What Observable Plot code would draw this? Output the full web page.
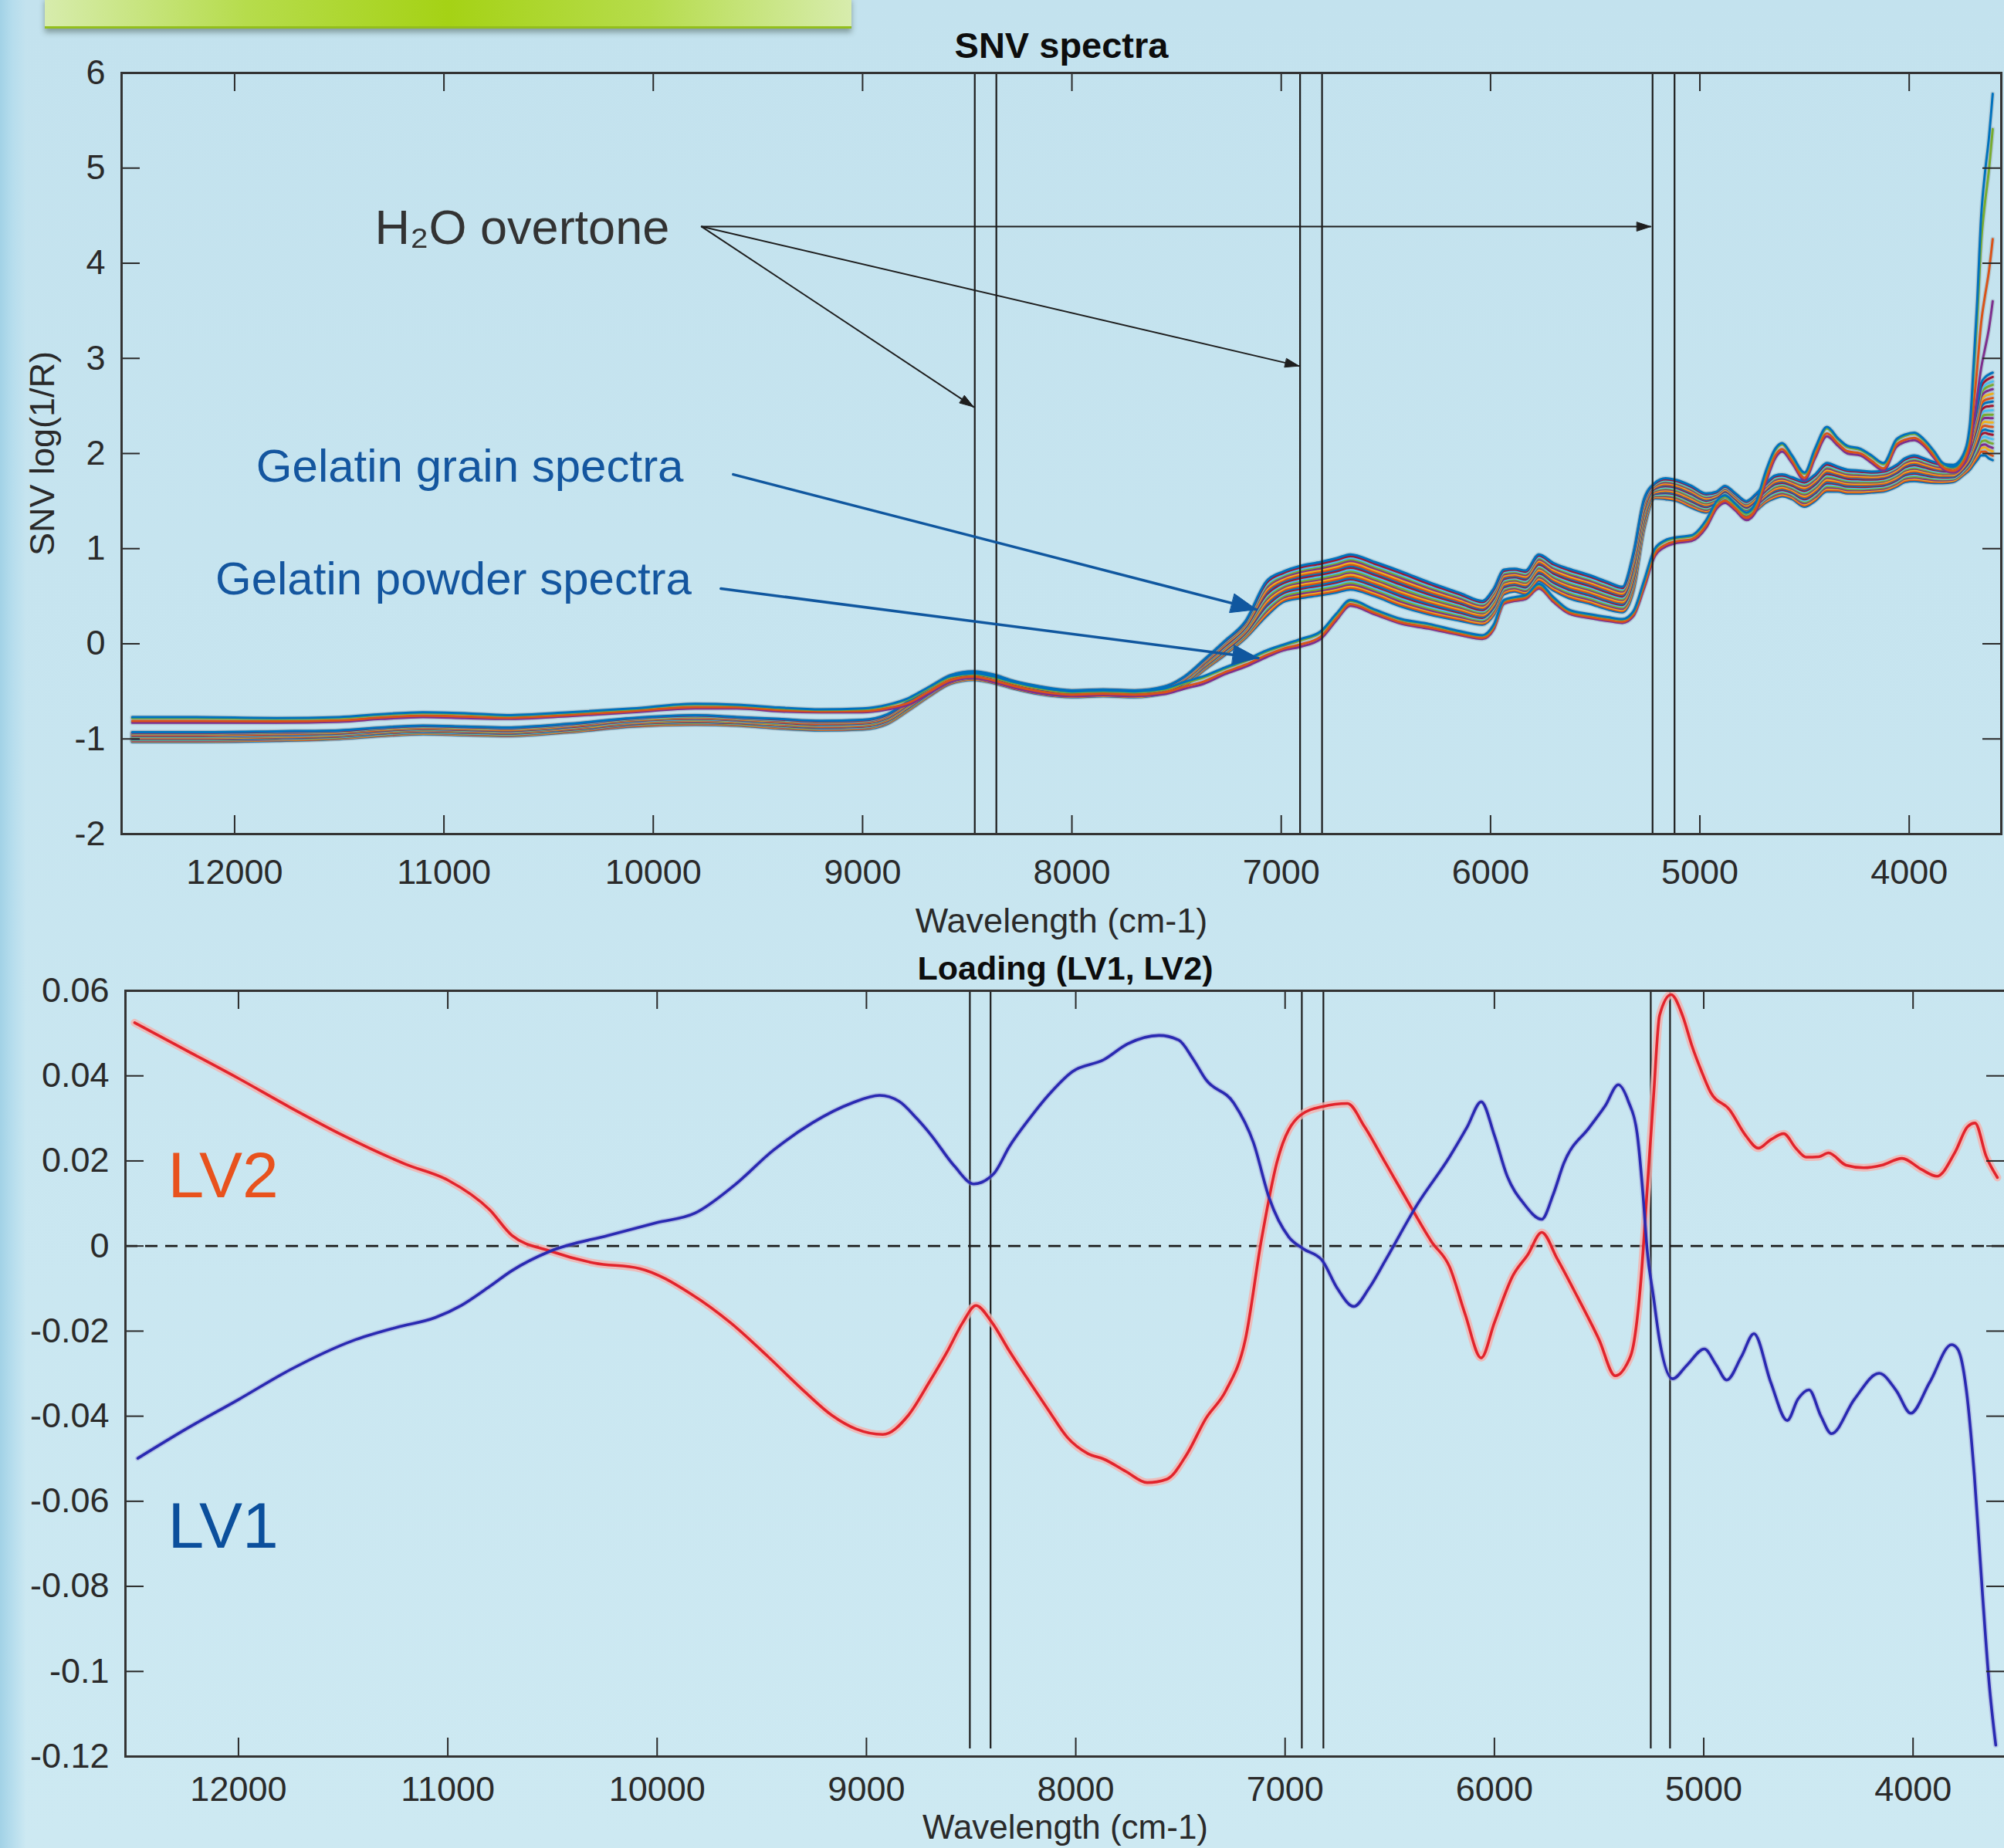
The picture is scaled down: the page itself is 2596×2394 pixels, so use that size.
<!DOCTYPE html>
<html><head><meta charset="utf-8">
<script src="https://cdn.jsdelivr.net/npm/d3@7"></script>
<script src="https://cdn.jsdelivr.net/npm/@observablehq/plot@0.6"></script>
<style>
html,body{margin:0;padding:0;overflow:hidden;background:#c6e4ef;}
#page{position:relative;width:2596px;height:2394px;overflow:hidden;
 background: linear-gradient(to right, #a2d2e6 0px, #b6dded 16px, rgba(198,228,239,0) 34px), linear-gradient(to bottom, #c3e2ee, #cde9f2);}
#banner{position:absolute;left:58px;top:-4px;width:1045px;height:38px;
 background: linear-gradient(to right, #d7ecad, #b6dc4c 25%, #a5d215 50%, #b6dc4c 75%, #d7ecad);
 border-bottom:3px solid #93bf1c; box-shadow:0 5px 7px rgba(50,70,60,0.45);}
.chart{position:absolute;left:0;}
</style></head><body><div id="page"><div id="banner"></div></div>
<script>
// ---------- DATA: SNV spectra (top) ----------
const wn = [12489,12200,11800,11500,11300,11100,10900,10700,10400,10100,
 9800,9600,9400,9200,9000,8880,8780,8680,8580,8470,
 8380,8280,8150,8000,7850,7700,7560,7460,7370,7270,
 7170,7070,6990,6907,6812,6735,6670,6554,6426,6297,
 6142,6039,5985,5936,5885,5833,5769,5700,5627,5525,
 5440,5370,5318,5267,5215,5164,5110,5040,4970,4920,
 4880,4830,4778,4730,4687,4640,4607,4560,4500,4450,
 4393,4340,4295,4233,4180,4123,4061,4020,3975,3930,
 3880,3840,3790,3742,3710,3693,3675,3656,3638,3620,
 3601];
const grainLow = [-1.03,-1.03,-1.02,-1.00,-0.97,-0.95,-0.96,-0.97,-0.93,-0.87,
 -0.85,-0.86,-0.89,-0.91,-0.90,-0.84,-0.70,-0.55,-0.42,-0.38,
 -0.41,-0.47,-0.53,-0.56,-0.55,-0.56,-0.52,-0.44,-0.28,-0.12,
 0.06,0.29,0.44,0.48,0.51,0.54,0.57,0.50,0.39,0.31,
 0.24,0.20,0.30,0.52,0.55,0.52,0.66,0.56,0.48,0.42,
 0.36,0.33,0.55,1.20,1.53,1.52,1.50,1.43,1.38,1.44,
 1.50,1.42,1.32,1.40,1.48,1.53,1.55,1.52,1.44,1.50,
 1.60,1.60,1.58,1.58,1.59,1.60,1.65,1.70,1.71,1.70,
 1.69,1.69,1.70,1.77,1.83,1.88,1.93,1.98,1.98,1.95,
 1.93];
const grainHigh = [-0.93,-0.93,-0.92,-0.91,-0.88,-0.86,-0.87,-0.88,-0.84,-0.78,
 -0.75,-0.77,-0.79,-0.81,-0.80,-0.74,-0.60,-0.46,-0.33,-0.29,
 -0.32,-0.39,-0.45,-0.49,-0.48,-0.49,-0.45,-0.34,-0.17,0.03,
 0.24,0.66,0.76,0.82,0.86,0.90,0.94,0.86,0.76,0.65,
 0.53,0.45,0.58,0.78,0.79,0.77,0.94,0.85,0.79,0.72,
 0.65,0.60,0.95,1.52,1.69,1.74,1.72,1.66,1.58,1.60,
 1.66,1.58,1.50,1.58,1.68,1.77,1.78,1.75,1.71,1.78,
 1.90,1.86,1.83,1.82,1.81,1.82,1.88,1.95,1.98,1.95,
 1.91,1.89,1.88,1.98,2.15,2.31,2.50,2.74,2.80,2.83,
 2.85];
const powderLow = [-0.83,-0.83,-0.83,-0.82,-0.79,-0.77,-0.78,-0.79,-0.76,-0.72,
 -0.68,-0.68,-0.71,-0.72,-0.72,-0.69,-0.64,-0.52,-0.40,-0.36,
 -0.40,-0.46,-0.52,-0.55,-0.54,-0.55,-0.53,-0.47,-0.42,-0.32,
 -0.24,-0.14,-0.07,-0.03,0.05,0.25,0.40,0.31,0.21,0.16,
 0.09,0.05,0.15,0.42,0.45,0.47,0.58,0.44,0.32,0.27,
 0.24,0.22,0.29,0.58,0.92,1.02,1.06,1.08,1.22,1.42,
 1.48,1.40,1.30,1.40,1.68,1.95,2.02,1.90,1.72,1.95,
 2.18,2.08,2.00,1.98,1.90,1.82,2.07,2.12,2.14,2.08,
 1.95,1.84,1.80,1.88,2.05,2.30,2.60,2.90,3.10,3.30,
 3.60];
const powderHigh = [-0.77,-0.77,-0.78,-0.77,-0.74,-0.72,-0.73,-0.75,-0.72,-0.68,
 -0.63,-0.64,-0.67,-0.69,-0.68,-0.64,-0.57,-0.45,-0.34,-0.31,
 -0.34,-0.40,-0.46,-0.50,-0.49,-0.50,-0.47,-0.40,-0.34,-0.25,
 -0.17,-0.07,-0.01,0.05,0.13,0.32,0.46,0.36,0.26,0.21,
 0.13,0.09,0.20,0.46,0.49,0.51,0.63,0.49,0.36,0.31,
 0.28,0.26,0.34,0.66,1.00,1.09,1.12,1.14,1.30,1.50,
 1.56,1.47,1.38,1.50,1.80,2.05,2.11,1.98,1.80,2.05,
 2.28,2.16,2.08,2.05,1.98,1.90,2.15,2.20,2.22,2.15,
 2.02,1.90,1.86,1.98,2.30,2.90,3.60,4.50,4.95,5.30,
 5.78];
// relative position of each individual spectrum inside its group's band
const grainLevels = [0.00,0.05,0.10,0.14,0.19,0.24,0.29,0.33,0.38,0.43,0.48,0.52,0.57,0.62,0.67,0.71,0.76,0.81,0.86,0.90,0.95,1.00];
const powderLevels = [0.00,0.30,0.83,1.00];
const matlabColors = ["#0072BD","#D95319","#EDB120","#7E2F8E","#77AC30","#4DBEEE","#A2142F"];
const powderColors = ["#7E2F8E","#D95319","#77AC30","#0072BD"];
const topVLines = [8464,8361,6910,6805,5226,5121];
const topXTicks = [12000,11000,10000,9000,8000,7000,6000,5000,4000];
const topYTicks = [-2,-1,0,1,2,3,4,5,6];

// annotations (data coordinates)
const h2oLabel = [{wn:11330, v:4.37, label:"H\u2082O overtone"}];
const h2oArrows = [
 {x1:9769, y1:4.385, x2:8470, y2:2.49},
 {x1:9769, y1:4.385, x2:6915, y2:2.92},
 {x1:9769, y1:4.385, x2:5235, y2:4.385}];
const gelLabels = [
 {wn:11897, v:1.86, label:"Gelatin grain spectra"},
 {wn:12092, v:0.675, label:"Gelatin powder spectra"}];
const gelArrows = [
 {x1:9618, y1:1.78, x2:7118, y2:0.36},
 {x1:9677, y1:0.58, x2:7110, y2:-0.15}];

// ---------- DATA: loadings (bottom) ----------
const lv2Wn = [12496,12250,12000,11750,11500,11200,11000,10800,10694,10510,
 10300,10082,9837,9650,9470,9300,9165,9050,8922,8800,
 8700,8616,8540,8477,8400,8317,8220,8130,8040,7942,
 7866,7760,7659,7565,7470,7378,7283,7190,7114,7039,
 6925,6820,6702,6620,6520,6398,6300,6215,6140,6063,
 6000,5911,5840,5774,5700,5606,5500,5423,5370,5332,
 5300,5271,5240,5211,5156,5100,5058,5010,4968,4876,
 4800,4739,4680,4618,4560,4511,4450,4404,4320,4236,
 4150,4053,3960,3886,3800,3740,3704,3650,3597];
const lv2 = [0.0525,0.0460,0.0394,0.0325,0.0260,0.0192,0.0155,0.0085,0.0025,-0.0012,
 -0.0040,-0.0053,-0.0113,-0.0180,-0.0260,-0.0340,-0.0398,-0.0430,-0.0443,-0.0398,
 -0.0320,-0.0250,-0.0180,-0.0140,-0.0180,-0.0247,-0.0320,-0.0386,-0.0450,-0.0488,
 -0.0501,-0.0530,-0.0556,-0.0548,-0.0490,-0.0405,-0.0340,-0.0220,0.0012,0.0197,
 0.0308,0.0328,0.0335,0.0280,0.0195,0.0091,0.0010,-0.0048,-0.0160,-0.0263,
 -0.0180,-0.0069,-0.0020,0.0032,-0.0030,-0.0117,-0.0220,-0.0305,-0.0280,-0.0222,
 -0.0080,0.0127,0.0350,0.0542,0.0591,0.0540,0.0473,0.0410,0.0362,0.0320,
 0.0260,0.0230,0.0250,0.0264,0.0230,0.0209,0.0210,0.0219,0.0190,0.0184,
 0.0190,0.0206,0.0180,0.0164,0.0220,0.0280,0.0289,0.0210,0.0161];
const lv1Wn = [12481,12250,12000,11750,11457,11243,11059,10937,10800,10694,
 10510,10234,10000,9820,9633,9445,9257,9070,8937,8844,
 8760,8693,8580,8487,8392,8317,8222,8130,8016,7866,
 7753,7602,7508,7440,7378,7245,7151,7076,6982,6915,
 6824,6750,6672,6600,6520,6368,6215,6130,6063,6000,
 5941,5860,5774,5720,5668,5546,5470,5408,5360,5318,
 5290,5271,5240,5211,5149,5080,4997,4940,4890,4820,
 4760,4680,4601,4550,4497,4440,4390,4280,4162,4080,
 4011,3920,3816,3790,3770,3745,3707,3668,3637,3605];
const lv1 = [-0.0499,-0.0430,-0.0361,-0.0290,-0.0223,-0.0191,-0.0168,-0.0140,-0.0095,-0.0058,
 -0.0012,0.0025,0.0055,0.0077,0.0142,0.0225,0.0290,0.0336,0.0354,0.0340,
 0.0300,0.0262,0.0188,0.0146,0.0170,0.0234,0.0299,0.0355,0.0410,0.0438,
 0.0475,0.0495,0.0484,0.0440,0.0391,0.0336,0.0243,0.0113,0.0021,-0.0006,
 -0.0033,-0.0100,-0.0142,-0.0100,-0.0033,0.0098,0.0209,0.0280,0.0339,0.0260,
 0.0167,0.0100,0.0063,0.0120,0.0195,0.0279,0.0330,0.0379,0.0340,0.0264,
 0.0120,-0.0006,-0.0120,-0.0222,-0.0312,-0.0280,-0.0242,-0.0280,-0.0315,-0.0260,
 -0.0206,-0.0320,-0.0410,-0.0360,-0.0338,-0.0400,-0.0441,-0.0360,-0.0299,-0.0340,
 -0.0393,-0.0320,-0.0232,-0.0240,-0.0265,-0.0340,-0.0540,-0.0820,-0.1025,-0.1173];
const botVLines = [8506,8407,6920,6817,5253,5161];
const botXTicks = [12000,11000,10000,9000,8000,7000,6000,5000,4000];
const botYTicks = [0.06,0.04,0.02,0,-0.02,-0.04,-0.06,-0.08,-0.1,-0.12];
const lvLabels = [
 {wn:12337, v:0.0164, label:"LV2", color:"#e8521d"},
 {wn:12337, v:-0.0660, label:"LV1", color:"#0b4f9c"}];

const xDomain = [12540, 3560];

// ---------- build tables ----------
const spectra = [];
grainLevels.forEach((p, k) => wn.forEach((w, i) =>
  spectra.push({id:"g"+k, wn:w, v:grainLow[i] + p*(grainHigh[i]-grainLow[i]), color:matlabColors[k % 7]})));
powderLevels.forEach((p, k) => wn.forEach((w, i) =>
  spectra.push({id:"p"+k, wn:w, v:powderLow[i] + p*(powderHigh[i]-powderLow[i]), color:powderColors[k]})));
const lv1Rows = lv1Wn.map((w, i) => ({wn:w, v:lv1[i]}));
const lv2Rows = lv2Wn.map((w, i) => ({wn:w, v:lv2[i]}));

const FONT = "'Liberation Sans', Arial, Helvetica, sans-serif";
const W = 2596;
const INK = "#2a2a2a";
const TICK = 24;

function ticksMarks(xt, yt, frameW, frameH) {
  return [
    Plot.ruleX(xt, {insetTop: frameH - TICK, stroke: INK, strokeWidth: 2}),
    Plot.ruleX(xt, {insetBottom: frameH - TICK, stroke: INK, strokeWidth: 2}),
    Plot.ruleY(yt, {insetRight: frameW - TICK, stroke: INK, strokeWidth: 2}),
    Plot.ruleY(yt, {insetLeft: frameW - TICK, stroke: INK, strokeWidth: 2})
  ];
}

// turn the open arrowheads drawn by Plot.arrow into filled triangles
function fillArrowHeads(svg) {
  svg.querySelectorAll('g[aria-label="arrow"]').forEach(g => {
    g.querySelectorAll("path").forEach(p => {
      const n = (p.getAttribute("d") || "").match(/-?\d*\.?\d+(e-?\d+)?/g);
      if (!n || n.length < 10) return;
      const v = n.map(Number);
      const color = p.getAttribute("stroke") || g.getAttribute("stroke") || "#000";
      const head = document.createElementNS("http://www.w3.org/2000/svg", "path");
      head.setAttribute("d", `M${v[4]},${v[5]}L${v[6]},${v[7]}L${v[8]},${v[9]}Z`);
      head.setAttribute("fill", color);
      head.setAttribute("stroke", color);
      head.setAttribute("stroke-width", "1");
      head.setAttribute("stroke-linejoin", "miter");
      p.parentNode.appendChild(head);
      p.setAttribute("d", `M${v[0]},${v[1]}L${v[2]},${v[3]}`);
    });
  });
}

try {
  // ---------- top chart ----------
  const tH = 1240, tL = 157, tR = 2592, tT = 94, tB = 1080;
  const topPlot = Plot.plot({
    width: W, height: tH,
    marginLeft: tL, marginRight: W - tR, marginTop: tT, marginBottom: tH - tB,
    style: {fontFamily: FONT, fontSize: "45px", color: INK, background: "transparent", overflow: "visible", maxWidth: "none"},
    x: {domain: xDomain},
    y: {domain: [-2, 6]},
    color: {type: "identity"},
    marks: [
      Plot.line(spectra, {x: "wn", y: "v", z: "id", stroke: "#8d9ea8", strokeWidth: 6, strokeOpacity: 0.35, curve: "monotone-x"}),
      Plot.line(spectra, {x: "wn", y: "v", z: "id", stroke: "color", strokeWidth: 3, curve: "monotone-x"}),
      Plot.ruleX(topVLines, {stroke: "#1c1c1c", strokeWidth: 2.2}),
      ...ticksMarks(topXTicks, topYTicks, tR - tL, tB - tT),
      Plot.frame({stroke: "#333", strokeWidth: 3}),
      Plot.axisX(topXTicks, {anchor: "bottom", tickSize: 0, tickPadding: 33, fontSize: 45, label: null, tickFormat: d => String(d)}),
      Plot.axisY(topYTicks, {anchor: "left", tickSize: 0, tickPadding: 21, fontSize: 45, label: null, tickFormat: d => String(d)}),
      Plot.text(["SNV spectra"], {frameAnchor: "top", lineAnchor: "middle", textAnchor: "middle", dy: -35, fontWeight: "bold", fontSize: 47, fill: "#0d0d0d"}),
      Plot.text(["Wavelength (cm-1)"], {frameAnchor: "bottom", lineAnchor: "middle", textAnchor: "middle", dy: 113, fontSize: 45, fill: INK}),
      Plot.text(["SNV log(1/R)"], {frameAnchor: "left", lineAnchor: "middle", textAnchor: "middle", dx: -102, rotate: -90, fontSize: 45, fill: INK}),
      Plot.arrow(h2oArrows, {x1: "x1", y1: "y1", x2: "x2", y2: "y2", stroke: "#1e1e1e", strokeWidth: 2, headLength: 14, headAngle: 36}),
      Plot.text(h2oLabel, {x: "wn", y: "v", text: "label", textAnchor: "start", lineAnchor: "middle", fontSize: 63, fill: "#333"}),
      Plot.arrow(gelArrows, {x1: "x1", y1: "y1", x2: "x2", y2: "y2", stroke: "#10579f", strokeWidth: 3.5, headLength: 15, headAngle: 42}),
      Plot.text(gelLabels, {x: "wn", y: "v", text: "label", textAnchor: "start", lineAnchor: "middle", fontSize: 60, fill: "#14569f"})
    ]
  });
  try { fillArrowHeads(topPlot); } catch (e) {}
  topPlot.classList.add("chart");
  topPlot.style.top = "0px";
  document.getElementById("page").appendChild(topPlot);

  // ---------- bottom chart ----------
  const bTop = 1200, bW = 2600, bH = 2394 - bTop;
  const bL = 162, bR = 2597, bT = 1283 - bTop, bB = 2275 - bTop;
  const botPlot = Plot.plot({
    width: bW, height: bH,
    marginLeft: bL, marginRight: bW - bR, marginTop: bT, marginBottom: bH - bB,
    style: {fontFamily: FONT, fontSize: "45px", color: INK, background: "transparent", overflow: "visible", maxWidth: "none"},
    x: {domain: xDomain},
    y: {domain: [-0.12, 0.06]},
    marks: [
      Plot.ruleY([0], {stroke: "#1c1c1c", strokeWidth: 2.6, strokeDasharray: "16,10"}),
      Plot.ruleX(botVLines, {stroke: "#1c1c1c", strokeWidth: 2.2, insetBottom: 10}),
      Plot.line(lv2Rows, {x: "wn", y: "v", stroke: "#f4b2ae", strokeWidth: 10, strokeOpacity: 0.8, curve: "monotone-x"}),
      Plot.line(lv1Rows, {x: "wn", y: "v", stroke: "#9a9ad8", strokeWidth: 7, strokeOpacity: 0.45, curve: "monotone-x"}),
      Plot.line(lv2Rows, {x: "wn", y: "v", stroke: "#e2242c", strokeWidth: 3.6, curve: "monotone-x"}),
      Plot.line(lv1Rows, {x: "wn", y: "v", stroke: "#2a2ab2", strokeWidth: 3.6, curve: "monotone-x"}),
      ...ticksMarks(botXTicks, botYTicks, bR - bL, bB - bT),
      Plot.frame({stroke: "#333", strokeWidth: 3}),
      Plot.axisX(botXTicks, {anchor: "bottom", tickSize: 0, tickPadding: 26, fontSize: 45, label: null, tickFormat: d => String(d)}),
      Plot.axisY(botYTicks, {anchor: "left", tickSize: 0, tickPadding: 21, fontSize: 45, label: null, tickFormat: d => String(+d.toFixed(2))}),
      Plot.text(["Loading (LV1, LV2)"], {frameAnchor: "top", lineAnchor: "middle", textAnchor: "middle", dy: -28, fontWeight: "bold", fontSize: 43, fill: "#0d0d0d"}),
      Plot.text(["Wavelength (cm-1)"], {frameAnchor: "bottom", lineAnchor: "middle", textAnchor: "middle", dy: 92, fontSize: 44, fill: INK}),
      Plot.text(lvLabels, {x: "wn", y: "v", text: "label", textAnchor: "start", lineAnchor: "middle", fontSize: 84, fill: "color"})
    ]
  });
  botPlot.classList.add("chart");
  botPlot.style.top = bTop + "px";
  document.getElementById("page").appendChild(botPlot);
} catch (e) {
  const pre = document.createElement("pre");
  pre.textContent = e.stack || String(e);
  document.body.appendChild(pre);
}
</script></body></html>
